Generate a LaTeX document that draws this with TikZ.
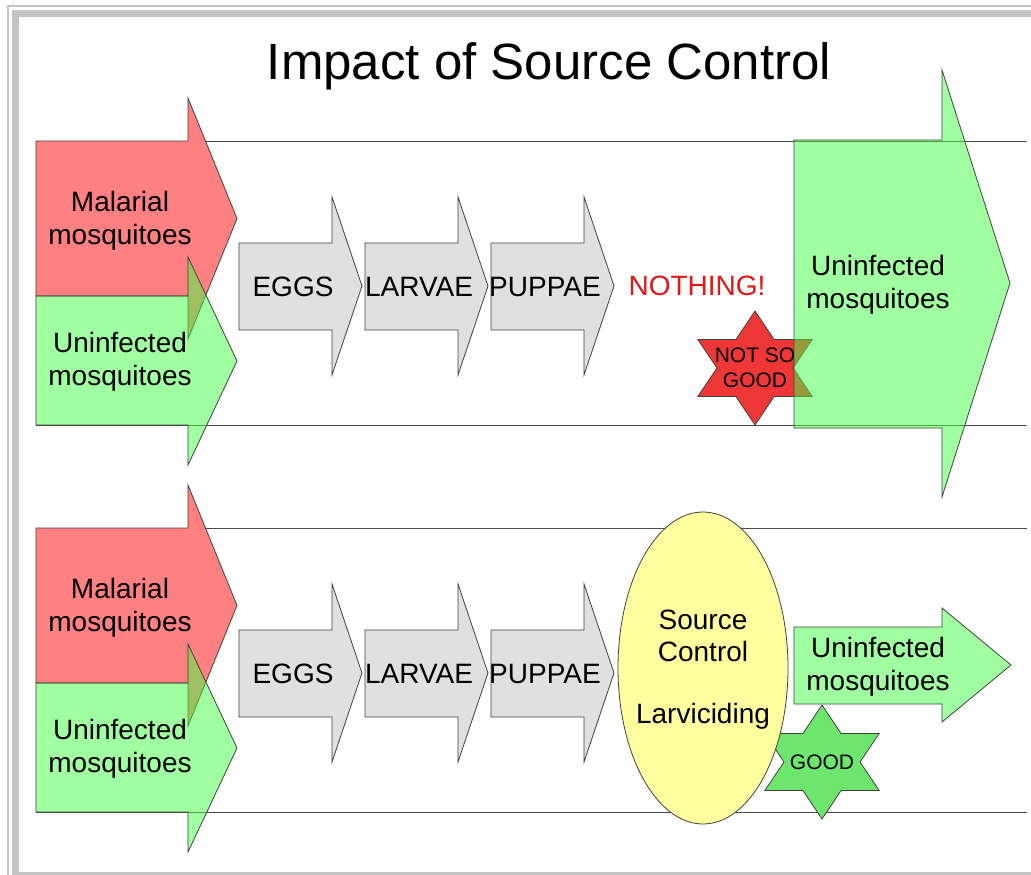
\documentclass[tikz,border=0pt]{standalone}
\usepackage{fontspec}
\setmainfont{Liberation Sans}
\usepackage{tikz}

\definecolor{malred}{RGB}{255,128,128}
\definecolor{uninfgreen}{RGB}{65,255,65}
\definecolor{stagegray}{RGB}{224,224,224}
\definecolor{larvyellow}{RGB}{255,255,160}
\definecolor{badred}{RGB}{240,55,55}
\definecolor{goodgreen}{RGB}{110,230,110}
\definecolor{nothingred}{RGB}{222,25,25}
\definecolor{framegray}{RGB}{195,195,195}

\begin{document}
\begin{tikzpicture}[x=1pt, y=-1pt,
  outline/.style={draw=black!75, line width=0.8pt},
  malarial/.style={outline, fill=malred},
  uninfected/.style={outline, fill=uninfgreen, fill opacity=0.5},
  stage/.style={outline, fill=stagegray},
  label/.style={align=center, inner sep=0pt, font=\fontsize{28}{33}\selectfont},
  starlabel/.style={align=center, inner sep=0pt, font=\fontsize{21}{25}\selectfont},
  rowline/.style={draw=black!70, line width=0.8pt}]
\useasboundingbox (0,0) rectangle (1031,875);
%%%%%%%%%%%%%%%%%%%%%%%%%%%%%%%
% frame and title
%%%%%%%%%%%%%%%%%%%%%%%%%%%%%%%
\draw [framegray, line width=2.5] (8,1000) -- (8,6) -- (1100,6);
\draw [framegray, line width=7] (15.5,13.5) rectangle (1100,875);
\node [anchor=base, font=\fontsize{51}{60}\selectfont] (title) at (549,80) {Impact of Source Control};
%
%%%%%%%%%%%%%%%%%%%%%%%%%%%%%%%
% the two rows
%%%%%%%%%%%%%%%%%%%%%%%%%%%%%%%
\foreach \dy/\row in {0/top, 387/bot}{
\begin{scope}[shift={(0,\dy)}]
\draw [rowline] (36,141) -- (1027,141);
\draw [rowline] (36,425) -- (1027,425);
%
\draw [malarial] (36,141) -- (188,141) -- (188,98) -- (237,218.5) -- (188,339) -- (188,296) -- (36,296) -- cycle;
\node [label] (malarial-\row) at (120,221) {Malarial\\mosquitoes};
\draw [uninfected] (36,296) -- (188,296) -- (188,257) -- (237,361) -- (188,465) -- (188,425) -- (36,425) -- cycle;
\node [label] (uninfected-\row) at (120,362) {Uninfected\\mosquitoes};
%
\foreach \x/\name/\txt in {239/eggs/EGGS, 365/larvae/LARVAE, 491/puppae/PUPPAE}{
  \draw [stage] (\x,243) -- (\x+93,243) -- (\x+93,197) -- (\x+123,286) -- (\x+93,375) -- (\x+93,330) -- (\x,330) -- cycle;
  \node [label] (\name-\row) at (\x+54,287) {\txt};
}
\end{scope}
}
%
%%%%%%%%%%%%%%%%%%%%%%%%%%%%%%%
% top row: no control
%%%%%%%%%%%%%%%%%%%%%%%%%%%%%%%
\node [label, text=nothingred] (nothing) at (697,286) {NOTHING!};
\draw [outline, fill=badred, shift={(755,368)}] (0:38 and 33)
  \foreach \a in {30,90,...,330}{ -- (\a:66 and 57) -- (\a+30:38 and 33)} -- cycle;
\node [starlabel] (notsogood) at (755,368) {NOT SO\\GOOD};
\draw [uninfected] (794,140) -- (942,140) -- (942,70) -- (1010,283) -- (942,497) -- (942,428) -- (794,428) -- cycle;
\node [label] (uninfected-big) at (878,285) {Uninfected\\mosquitoes};
%
%%%%%%%%%%%%%%%%%%%%%%%%%%%%%%%
% bottom row: larviciding
%%%%%%%%%%%%%%%%%%%%%%%%%%%%%%%
\draw [outline, fill=goodgreen, shift={(822,762)}] (0:38 and 33)
  \foreach \a in {30,90,...,330}{ -- (\a:66 and 57) -- (\a+30:38 and 33)} -- cycle;
\node [starlabel] (good) at (822,762) {GOOD};
\draw [outline, fill=larvyellow] (703,668) ellipse [x radius=85, y radius=156];
\node [label, font=\fontsize{28}{32}\selectfont] (larviciding) at (703,670) {Source\\Control\\[30pt]Larviciding};
\draw [uninfected] (794,627) -- (942,627) -- (942,608) -- (1011,665) -- (942,722) -- (942,704) -- (794,704) -- cycle;
\node [label] (uninfected-small) at (878,667) {Uninfected\\mosquitoes};
%%%%%%%%%%%%%%%%%%%%%%%%%%%%%%%
\end{tikzpicture}
\end{document}
